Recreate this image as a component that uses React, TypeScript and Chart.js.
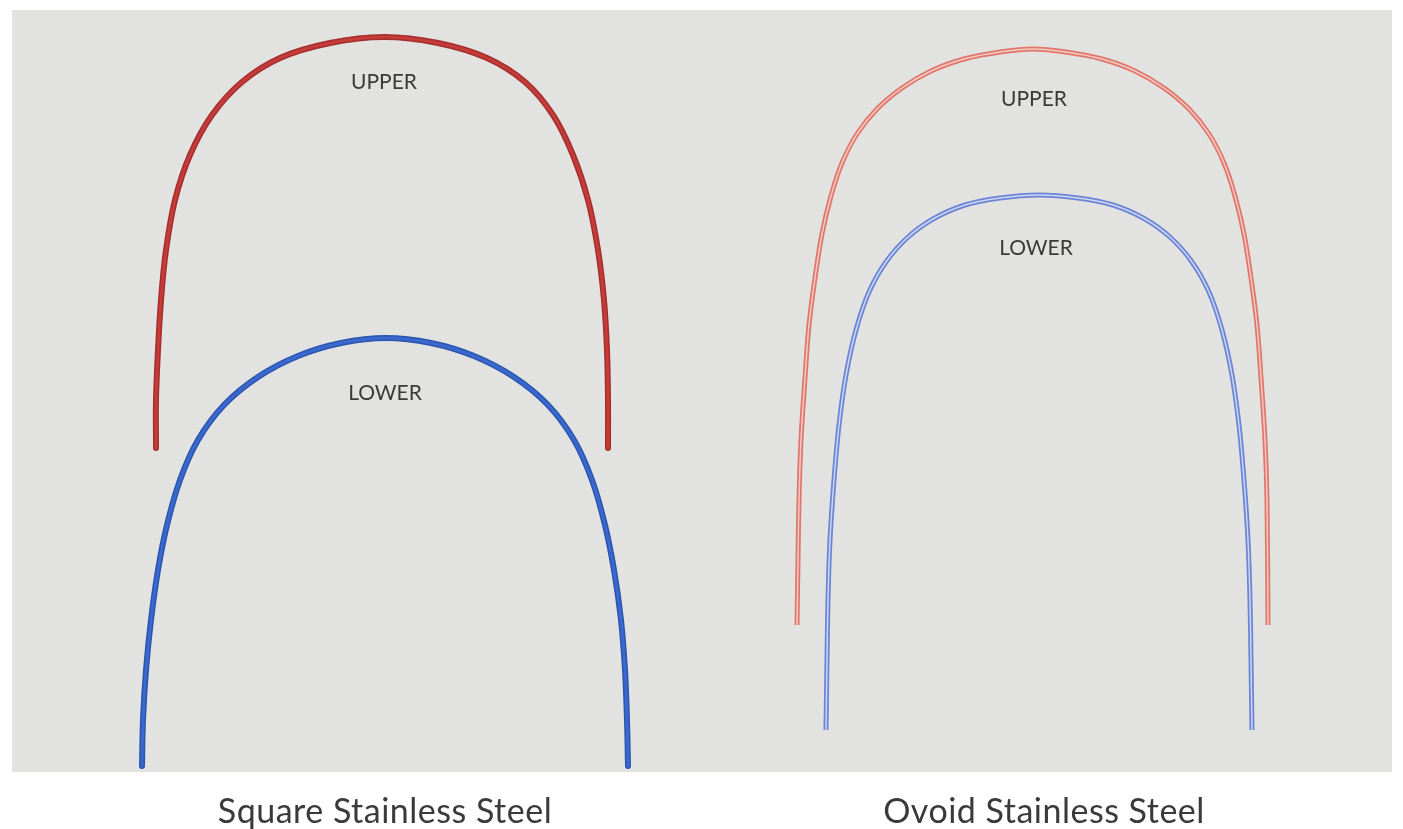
import { useEffect, useRef } from "react";
import { Chart, registerables } from "chart.js";

Chart.register(...registerables);

// Square stainless steel – upper arch (red)
const squareUpperX = [156, 156, 158, 161, 166, 175, 190, 212, 242, 280, 330, 384, 438, 487, 525, 553, 573, 588, 598, 604, 607, 608, 608];
const squareUpperY = [448, 400, 350, 300, 250, 200, 155, 115, 82, 58, 43, 37, 43, 58, 82, 115, 155, 200, 250, 300, 350, 400, 448];

// Square stainless steel – lower arch (blue)
const squareLowerX = [142, 143, 146, 151, 158, 167, 180, 198, 224, 258, 298, 341, 386, 431, 474, 514, 548, 574, 592, 605, 614, 621, 625, 627, 628];
const squareLowerY = [766, 720, 670, 620, 570, 525, 480, 440, 405, 377, 356, 343, 338, 343, 356, 377, 405, 440, 480, 525, 570, 620, 670, 720, 766];

// Ovoid stainless steel – upper arch (red)
const ovoidUpperX = [797, 798, 799, 801, 805, 809, 815, 822, 831, 842, 857, 877, 902, 931, 964, 1000, 1033, 1066, 1102, 1135, 1164, 1189, 1209, 1224, 1235, 1244, 1251, 1257, 1261, 1265, 1267, 1268];
const ovoidUpperY = [625, 560, 500, 440, 378, 325, 278, 234, 196, 163, 134, 109, 88, 71, 59, 52, 49, 52, 59, 71, 88, 109, 134, 163, 196, 234, 278, 325, 378, 440, 500, 625];

// Ovoid stainless steel – lower arch (blue)
const ovoidLowerX = [826, 827, 828, 830, 834, 839, 846, 856, 869, 886, 907, 933, 965, 1000, 1039, 1078, 1113, 1145, 1171, 1192, 1209, 1222, 1232, 1239, 1244, 1248, 1250, 1251, 1252];
const ovoidLowerY = [730, 660, 600, 540, 480, 425, 375, 330, 292, 262, 238, 219, 205, 198, 195, 198, 205, 219, 238, 262, 292, 330, 375, 425, 480, 540, 600, 660, 730];

const archLabels = ["UPPER", "LOWER", "UPPER", "LOWER"];
const captions = ["Square Stainless Steel", "Ovoid Stainless Steel"];

function pts(xs: number[], ys: number[]) {
  return xs.map((x, i) => ({ x, y: ys[i] }));
}

function line(data: any[], color: string, width: number, order: number, cap: "round" | "butt") {
  return {
    data,
    showLine: true,
    borderColor: color,
    backgroundColor: color,
    borderWidth: width,
    pointRadius: 0,
    pointHoverRadius: 0,
    tension: 0.35,
    fill: false,
    borderCapStyle: cap,
    borderJoinStyle: "round",
    order,
  };
}

export default function App() {
  const ref = useRef<HTMLCanvasElement>(null);

  useEffect(() => {
    document.body.style.margin = "0";
    const su = pts(squareUpperX, squareUpperY);
    const sl = pts(squareLowerX, squareLowerY);
    const ou = pts(ovoidUpperX, ovoidUpperY);
    const ol = pts(ovoidLowerX, ovoidLowerY);
    const chart = new Chart(ref.current!, {
      type: "scatter",
      data: {
        datasets: [
          line(su, "#a52e2d", 6, 3, "round"),
          line(su, "#c43c3a", 3, 2, "round"),
          line(sl, "#2a55b0", 6, 3, "round"),
          line(sl, "#3a68cc", 3, 2, "round"),
          line(ou, "#e0766b", 5, 3, "butt"),
          line(ou, "#f4cbc3", 1.5, 2, "butt"),
          line(ol, "#6c84d4", 5, 3, "butt"),
          line(ol, "#cdd6f2", 1.5, 2, "butt"),
        ] as any,
      },
      options: {
        responsive: false,
        animation: false,
        devicePixelRatio: 1,
        events: [],
        layout: { padding: 0 },
        plugins: { legend: { display: false }, tooltip: { enabled: false } },
        scales: {
          x: { type: "linear", min: 0, max: 1403, display: false },
          y: { type: "linear", min: 0, max: 829, reverse: true, display: false },
        },
      } as any,
    });
    return () => chart.destroy();
  }, []);

  const labelStyle = (x: number, y: number): any => ({
    position: "absolute",
    left: x,
    top: y,
    transform: "translate(-50%, -50%)",
    fontFamily: "Lato, 'Open Sans', sans-serif",
    fontSize: 21,
    color: "#3a3a3a",
    whiteSpace: "nowrap",
  });
  const captionStyle = (x: number, y: number): any => ({
    position: "absolute",
    left: x,
    top: y,
    transform: "translate(-50%, -50%)",
    fontFamily: "Lato, 'Open Sans', sans-serif",
    fontSize: 34,
    letterSpacing: 0.5,
    color: "#3a3a3a",
    whiteSpace: "nowrap",
  });

  return (
    <div style={{ position: "fixed", left: 0, top: 0, width: 1403, height: 829, background: "#ffffff", overflow: "hidden" }}>
      <div style={{ position: "absolute", left: 12, top: 10, width: 1380, height: 762, background: "#e2e3e1" }} />
      <canvas ref={ref} width={1403} height={829} style={{ position: "absolute", left: 0, top: 0, width: 1403, height: 829 }} />
      <div style={labelStyle(384, 80)}>{archLabels[0]}</div>
      <div style={labelStyle(385, 391)}>{archLabels[1]}</div>
      <div style={labelStyle(1034, 97)}>{archLabels[2]}</div>
      <div style={labelStyle(1036, 246)}>{archLabels[3]}</div>
      <div style={captionStyle(385, 809)}>{captions[0]}</div>
      <div style={captionStyle(1044, 809)}>{captions[1]}</div>
    </div>
  );
}
